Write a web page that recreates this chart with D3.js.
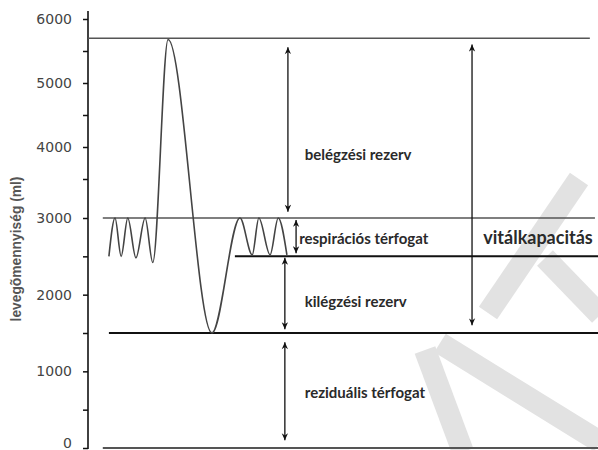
<!DOCTYPE html>
<html><head><meta charset="utf-8">
<script src="https://cdn.jsdelivr.net/npm/d3@7"></script>
<style>body{margin:0;background:#fff} svg{display:block}</style>
</head><body><svg id="c" width="598" height="450"></svg>
<script>
// ---- data ----
const yTicks = [0,500,1000,1500,2000,2500,3000,3500,4000,4500,5000,5500,6000];
const yTickLabels = ["0","","1000","","2000","","3000","","4000","","5000","","6000"];
const yAxisTitle = "levegõmennyiség (ml)";

// spirogram (time in arbitrary units, volume in ml)
const curveTime   = [4.1, 5.3, 6.5, 7.8, 9.4, 11.2, 12.7, 15.7, 24.3, 29.8, 32.2, 33.5, 35.7, 37.3, 39.0];
const curveVolume = [2500,3000,2500,3000,2480,3000, 2420, 5680, 1500, 3000, 2520, 3000, 2520, 3000, 2520];

// reference levels
const levelValues = [5700, 3000, 2500, 1500, 0];
const levelStart  = [0,    2.9,  28.8, 4.1,  2.9];
const levelEnd    = [98.4, 99.4, 100,  100,  100];

// double arrows
const arrowTime = [39.2, 40.8, 38.6, 38.6, 75.3];
const arrowFrom = [5560, 2975, 2480, 1380, 5600];
const arrowTo   = [3080, 2540, 1550, 100,  1600];

// labels
const labelTexts = ["belégzési rezerv","respirációs térfogat","vitálkapacitás","kilégzési rezerv","reziduális térfogat"];
const labelTime  = [42.5, 41.4, 77.5, 42.5, 42.5];
const labelValue = [3800, 2660, 2660, 1840, 650];
const labelBig   = [false, false, true, false, false];

// ---- drawing ----
const svg = d3.select("#c");
const x = d3.scaleLinear().domain([0,100]).range([88,598]);
const y = d3.scaleLinear().domain([0,3000,3500,6000]).range([448,218,179,19]);

// watermark (decoration)
const wm = svg.append("g").attr("stroke","#e2e2e2").attr("stroke-width",22).attr("fill","none");
[[579,179,488,313],[545,258,600,315],[425,350,463,452],[440,343,600,442]].forEach(s=>{
  wm.append("line").attr("x1",s[0]).attr("y1",s[1]).attr("x2",s[2]).attr("y2",s[3]);
});

// defs
const defs = svg.append("defs");
defs.append("marker").attr("id","ah").attr("viewBox","0 -5 10 10")
  .attr("refX",10).attr("refY",0).attr("markerWidth",8).attr("markerHeight",7)
  .attr("markerUnits","userSpaceOnUse").attr("orient","auto-start-reverse")
  .append("path").attr("d","M0,-4.5L10,0L0,4.5L3,0Z").attr("fill","#111");

// axis
const axis = d3.axisLeft(y).tickValues(yTicks).tickSize(5).tickPadding(11)
  .tickFormat((d,i)=>yTickLabels[i]);
const gAx = svg.append("g").attr("transform","translate(88,0)").call(axis);
gAx.select(".domain").remove();
gAx.selectAll(".tick line").attr("stroke","#111").attr("stroke-width",1.5);
gAx.selectAll(".tick text").attr("font-family","DejaVu Sans").attr("font-size",14).attr("fill","#444")
  .attr("dy",d=>d===0?"-0.05em":"0.32em");
gAx.append("line").attr("x1",0).attr("x2",0).attr("y1",y(0)+1).attr("y2",y(6000)-8)
  .attr("stroke","#111").attr("stroke-width",1.6);

svg.append("text").attr("transform",`translate(21,${(y(1500)+y(4000))/2+ 9}) rotate(-90)`)
  .attr("text-anchor","middle").attr("font-family","Liberation Sans").attr("font-weight","bold")
  .attr("font-size",13.8).attr("fill","#555").text(yAxisTitle);

// level lines
const lvlW = [1.5,1.5,2,2,2];
const lvlC = ["#555","#555","#111","#111","#555"];
levelValues.forEach((v,i)=>{
  svg.append("line").attr("x1",x(levelStart[i])).attr("x2",x(levelEnd[i]))
    .attr("y1",y(v)).attr("y2",y(v)).attr("stroke",lvlC[i]).attr("stroke-width",lvlW[i]);
});

// spirogram curve
const pts = curveTime.map((t,i)=>[t,curveVolume[i]]);
svg.append("path").datum(pts)
  .attr("d",d3.line().x(d=>x(d[0])).y(d=>y(d[1])).curve(d3.curveMonotoneX))
  .attr("fill","none").attr("stroke","#444").attr("stroke-width",1.6);

// arrows
arrowTime.forEach((t,i)=>{
  svg.append("line").attr("x1",x(t)).attr("x2",x(t)).attr("y1",y(arrowFrom[i])).attr("y2",y(arrowTo[i]))
    .attr("stroke","#111").attr("stroke-width",1.3)
    .attr("marker-start","url(#ah)").attr("marker-end","url(#ah)");
});

// labels
labelTexts.forEach((s,i)=>{
  svg.append("text").attr("x",x(labelTime[i])).attr("y",y(labelValue[i]))
    .attr("font-family","Lato").attr("font-weight","bold")
    .attr("font-size",labelBig[i]?18:15).attr("fill","#2a2a2a").text(s);
});
</script></body></html>
